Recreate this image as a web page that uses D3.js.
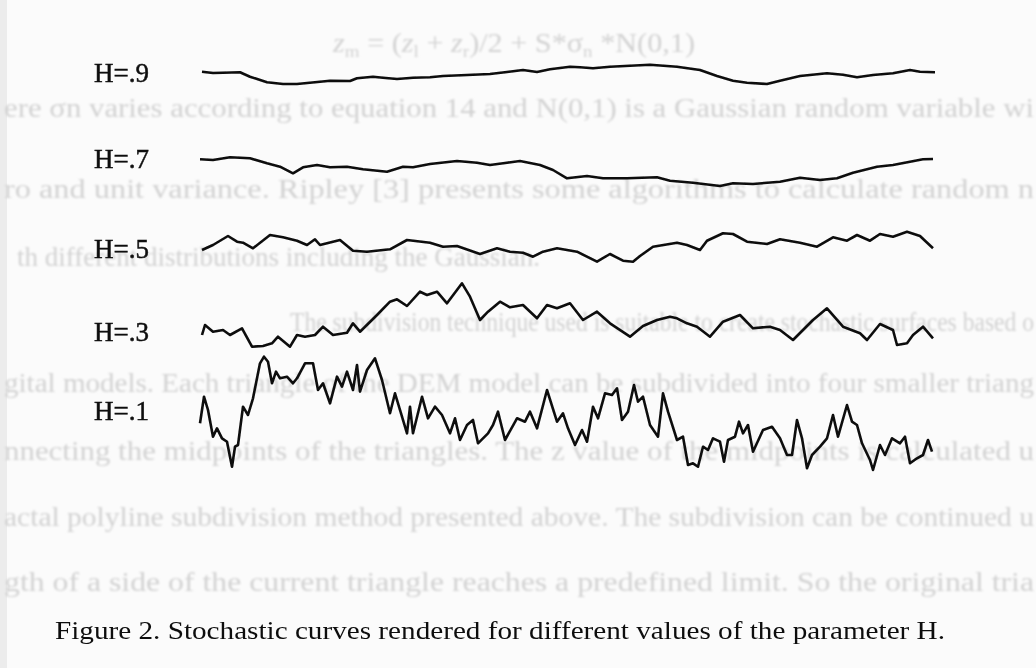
<!DOCTYPE html>
<html>
<head>
<meta charset="utf-8">
<script src="https://cdn.jsdelivr.net/npm/d3@7"></script>
<style>
  html, body { margin: 0; padding: 0; background: #fbfbfb; }
  svg { display: block; }
  .serif { font-family: 'Liberation Serif', 'Times New Roman', Times, serif; }
</style>
</head>
<body>
<div id="chart"></div>
<script>
// curve samples: [position, deviation]
const curveH9 = [[2,3.3],[13,2],[23,2.3],[40,2.7],[50,-1.7],[67,-7.3],[83,-9],[97,-9],[120,-6.7],[130,-5.7],[150,-6],[157,-3.3],[173,-1.7],[183,-2.7],[197,-4],[213,-2.7],[230,-2.3],[243,-1],[273,0.3],[290,1],[307,3],[323,5],[337,3],[350,5.7],[370,8.3],[380,7.7],[393,6.7],[410,8.3],[450,10.3],[477,8.3],[500,5],[517,-1],[533,-5.7],[547,-7.7],[567,-9],[580,-5.7],[600,-1],[627,1.7],[643,0.3],[657,-2.3],[673,0],[693,1.7],[710,5],[720,3.3],[735,2.7]]
const curveH7 = [[0,10.7],[13,10],[30,12.7],[50,11.7],[67,6.7],[80,3.3],[93,-3.3],[103,2.7],[117,5],[130,2.7],[147,3.3],[163,0.7],[187,-1.7],[203,3.3],[213,2.7],[230,6],[257,9],[277,7.3],[290,5],[307,7.3],[320,9],[340,5],[353,0],[367,-8.3],[387,-6],[403,-8.3],[427,-8.3],[457,-7.3],[470,-10.7],[493,-12.7],[520,-16],[533,-13.3],[553,-14],[580,-11.7],[600,-7.7],[620,-10],[637,-8.3],[653,-2.7],[677,3.3],[693,5],[710,8.3],[723,10.7],[733,11]]
const curveH5 = [[2,-5],[13,0],[28,9],[37,3.3],[43,2.3],[53,-3.3],[70,10],[83,7.7],[97,4.3],[107,0],[115,5.7],[120,0],[140,5],[153,-5.7],[167,-6.7],[190,-4.3],[207,5],[230,2.3],[243,-1.7],[257,-1],[280,-9],[297,-3.3],[310,-6.7],[323,-7.7],[333,-11.7],[343,-6.7],[357,-3.3],[377,-6.7],[397,-16.7],[410,-9],[423,-15.7],[433,-16.7],[440,-11],[453,-1.7],[477,2.3],[487,0],[500,-5],[507,4.3],[523,11.7],[533,11],[547,3.3],[567,1],[580,5.7],[600,2.3],[617,-1.7],[633,7.7],[647,4.3],[657,10],[670,4.3],[680,11],[693,8.3],[707,13.3],[720,9],[733,-3.3]]
const curveH3 = [[2,-15],[5,-5],[13,-11.7],[23,-10],[30,-15],[42,-8.3],[52,-26.7],[63,-26],[72,-23.3],[78,-16.7],[90,-26.7],[97,-15],[105,-16.7],[115,-15],[123,-6.7],[133,-15],[147,-12.7],[153,-3.3],[160,-11.7],[177,5],[190,18.3],[197,20.7],[207,14],[220,28.3],[227,25],[237,28.3],[247,16.7],[262,36.7],[270,23.3],[280,0],[288,8.3],[300,18.3],[310,12.7],[323,15],[337,1.7],[347,15],[357,11.7],[370,16.7],[383,0],[397,8.3],[410,-3.3],[430,-16.7],[443,-6],[457,0],[470,3.3],[477,1.7],[487,-3.3],[497,-6.7],[510,-16.7],[523,-1.7],[540,5],[553,-8.3],[570,-6.7],[580,-10],[593,-20],[613,0],[627,11.7],[643,-6.7],[660,-13.3],[667,-20],[680,-4],[693,-10],[697,-25],[707,-23.3],[713,-15],[723,-6.7],[733,-18.3]]
const curveH1 = [[0,-8.3],[4,18.3],[8,5],[13,-21.7],[17,-13.3],[22,-23.3],[27,-26.7],[32,-51.7],[35,-31.7],[38,-30],[43,8.3],[48,0],[53,16.7],[60,51.7],[64,58.3],[68,53.3],[72,31.7],[76,43.3],[80,36.7],[87,38.3],[93,31.7],[97,36.7],[105,51.7],[113,51.7],[118,25],[123,31.7],[130,11.7],[137,38.3],[142,28.3],[147,43.3],[153,25],[157,50],[160,23.3],[167,45],[175,56.7],[182,35],[190,1.7],[195,21.7],[202,-1.7],[207,-18.3],[210,8.3],[213,-18.3],[222,18.3],[228,-3.3],[235,8.3],[242,0],[250,-18.3],[255,-3.3],[260,-25],[267,-10],[273,-5],[278,-28.3],[288,-18.3],[293,-10],[298,3.3],[305,-25],[317,-3.3],[325,-6.7],[330,3.3],[337,-13.3],[347,25],[357,-6.7],[363,1.7],[368,-13.3],[375,-30],[382,-15],[387,-26.7],[393,8.3],[398,-3.3],[405,21.7],[412,20],[417,26.7],[422,-5],[428,3.3],[434,30],[438,13.3],[443,18.3],[450,-10],[458,-21.7],[463,21.7],[468,3.3],[477,-25],[483,-21.7],[488,-50],[493,-48.3],[498,-51.7],[503,-31.7],[508,-35],[513,-23.3],[520,-26.7],[524,-46.7],[528,-25],[535,-21.7],[539,-6.7],[543,-18.3],[548,-10],[553,-36.7],[563,-15],[572,-11.7],[580,-23.3],[587,-40],[592,-40],[597,-5],[602,-23.3],[607,-53.3],[612,-40],[620,-31.7],[627,-23.3],[633,0],[638,-21.7],[647,10],[652,-6.7],[657,-10],[662,-28.3],[670,-45],[673,-55],[680,-30],[685,-40],[692,-23.3],[700,-28.3],[705,-21.7],[710,-48.3],[717,-43.3],[723,-40],[728,-25],[732,-36.7]]

const curves = [curveH9, curveH7, curveH5, curveH3, curveH1]
const labels = ["H=.9", "H=.7", "H=.5", "H=.3", "H=.1"]
const caption = "Figure 2. Stochastic curves rendered for different values of the parameter H."

// faint text showing through from the page underneath
const ghostText = [
  "ere \u03c3n varies according to equation 14 and N(0,1) is a Gaussian random variable wi",
  "ro and unit variance. Ripley [3] presents some algorithms to calculate random n",
  "th different distributions including the Gaussian.",
  "The subdivision technique used is suitable to create stochastic surfaces based o",
  "gital models. Each triangle of the DEM model can be subdivided into four smaller triang",
  "nnecting the midpoints of the triangles. The z value of the midpoints is calculated u",
  "actal polyline subdivision method presented above. The subdivision can be continued u",
  "gth of a side of the current triangle reaches a predefined limit. So the original tria"
]

const width = 1036
const height = 668
const rowCenters = [75, 170, 245, 320, 415]
const labelBaselines = [82, 168, 258, 341, 420]
// [start x, baseline, end x, anchor]
const ghostRows = [[4, 117, 1034, 'start'], [4, 198, 1034, 'start'], [0, 266, 540, 'end'], [290, 331, 1034, 'start'], [4, 392, 1034, 'start'], [4, 460, 1034, 'start'], [4, 526, 1034, 'start'], [4, 591, 1034, 'start']]

const svg = d3.select('#chart').append('svg')
  .attr('width', width)
  .attr('height', height)

svg.append('rect').attr('width', width).attr('height', height).attr('fill', '#fbfbfb')
svg.append('rect').attr('width', 7).attr('height', height).attr('fill', '#ececec')

const defs = svg.append('defs')
defs.append('filter').attr('id', 'blur')
  .append('feGaussianBlur').attr('stdDeviation', 0.9)
defs.append('filter').attr('id', 'soft')
  .append('feGaussianBlur').attr('stdDeviation', 0.3)

const ghost = svg.append('g')
  .attr('class', 'serif')
  .attr('fill', '#d2d2d2')
  .attr('font-size', 27)
  .attr('filter', 'url(#blur)')

// formula line at top
const formula = ghost.append('text').attr('x', 333).attr('y', 52).attr('textLength', 362).attr('lengthAdjust', 'spacingAndGlyphs')
formula.append('tspan').attr('font-style', 'italic').text('z')
formula.append('tspan').attr('font-size', 17).attr('dy', 5).text('m')
formula.append('tspan').attr('dy', -5).text(' = (')
formula.append('tspan').attr('font-style', 'italic').text('z')
formula.append('tspan').attr('font-size', 17).attr('dy', 5).text('l')
formula.append('tspan').attr('dy', -5).text(' + ')
formula.append('tspan').attr('font-style', 'italic').text('z')
formula.append('tspan').attr('font-size', 17).attr('dy', 5).text('r')
formula.append('tspan').attr('dy', -5).text(')/2 + S*\u03c3')
formula.append('tspan').attr('font-size', 17).attr('dy', 5).text('n')
formula.append('tspan').attr('dy', -5).text(' *N(0,1)')

ghost.selectAll('text.line')
  .data(ghostText)
  .enter().append('text')
  .attr('class', 'line')
  .attr('x', (d, i) => ghostRows[i][3] === 'end' ? ghostRows[i][2] : ghostRows[i][0])
  .attr('y', (d, i) => ghostRows[i][1])
  .attr('text-anchor', (d, i) => ghostRows[i][3])
  .each(function (d, i) {
    if (ghostRows[i][3] === 'start') {
      d3.select(this)
        .attr('textLength', ghostRows[i][2] - ghostRows[i][0])
        .attr('lengthAdjust', 'spacingAndGlyphs')
    }
  })
  .text(d => d)

const x = d3.scaleLinear().domain([0, 735]).range([200, 935])

const lineFor = function (center) {
  const y = d3.scaleLinear().domain([-60, 60]).range([center + 60, center - 60])
  return d3.line()
    .x(function (d) { return x(d[0]) })
    .y(function (d) { return y(d[1]) })
}

const plot = svg.append('g').attr('filter', 'url(#soft)')

curves.forEach(function (data, i) {
  plot.append('path')
    .attr('d', lineFor(rowCenters[i])(data))
    .attr('fill', 'none')
    .attr('stroke', '#0c0c0c')
    .attr('stroke-width', 2.6)
    .attr('stroke-linejoin', 'round')
})

plot.selectAll('text.label')
  .data(labels)
  .enter().append('text')
  .attr('class', 'label serif')
  .attr('x', 94)
  .attr('y', (d, i) => labelBaselines[i])
  .attr('font-size', 27)
  .attr('fill', '#111')
  .attr('stroke', '#111')
  .attr('stroke-width', 0.5)
  .text(d => d)

plot.append('text')
  .attr('class', 'serif')
  .attr('x', 55)
  .attr('y', 639)
  .attr('font-size', 25)
  .attr('fill', '#111')
  .attr('textLength', 890)
  .attr('lengthAdjust', 'spacingAndGlyphs')
  .text(caption)
</script>
</body>
</html>
